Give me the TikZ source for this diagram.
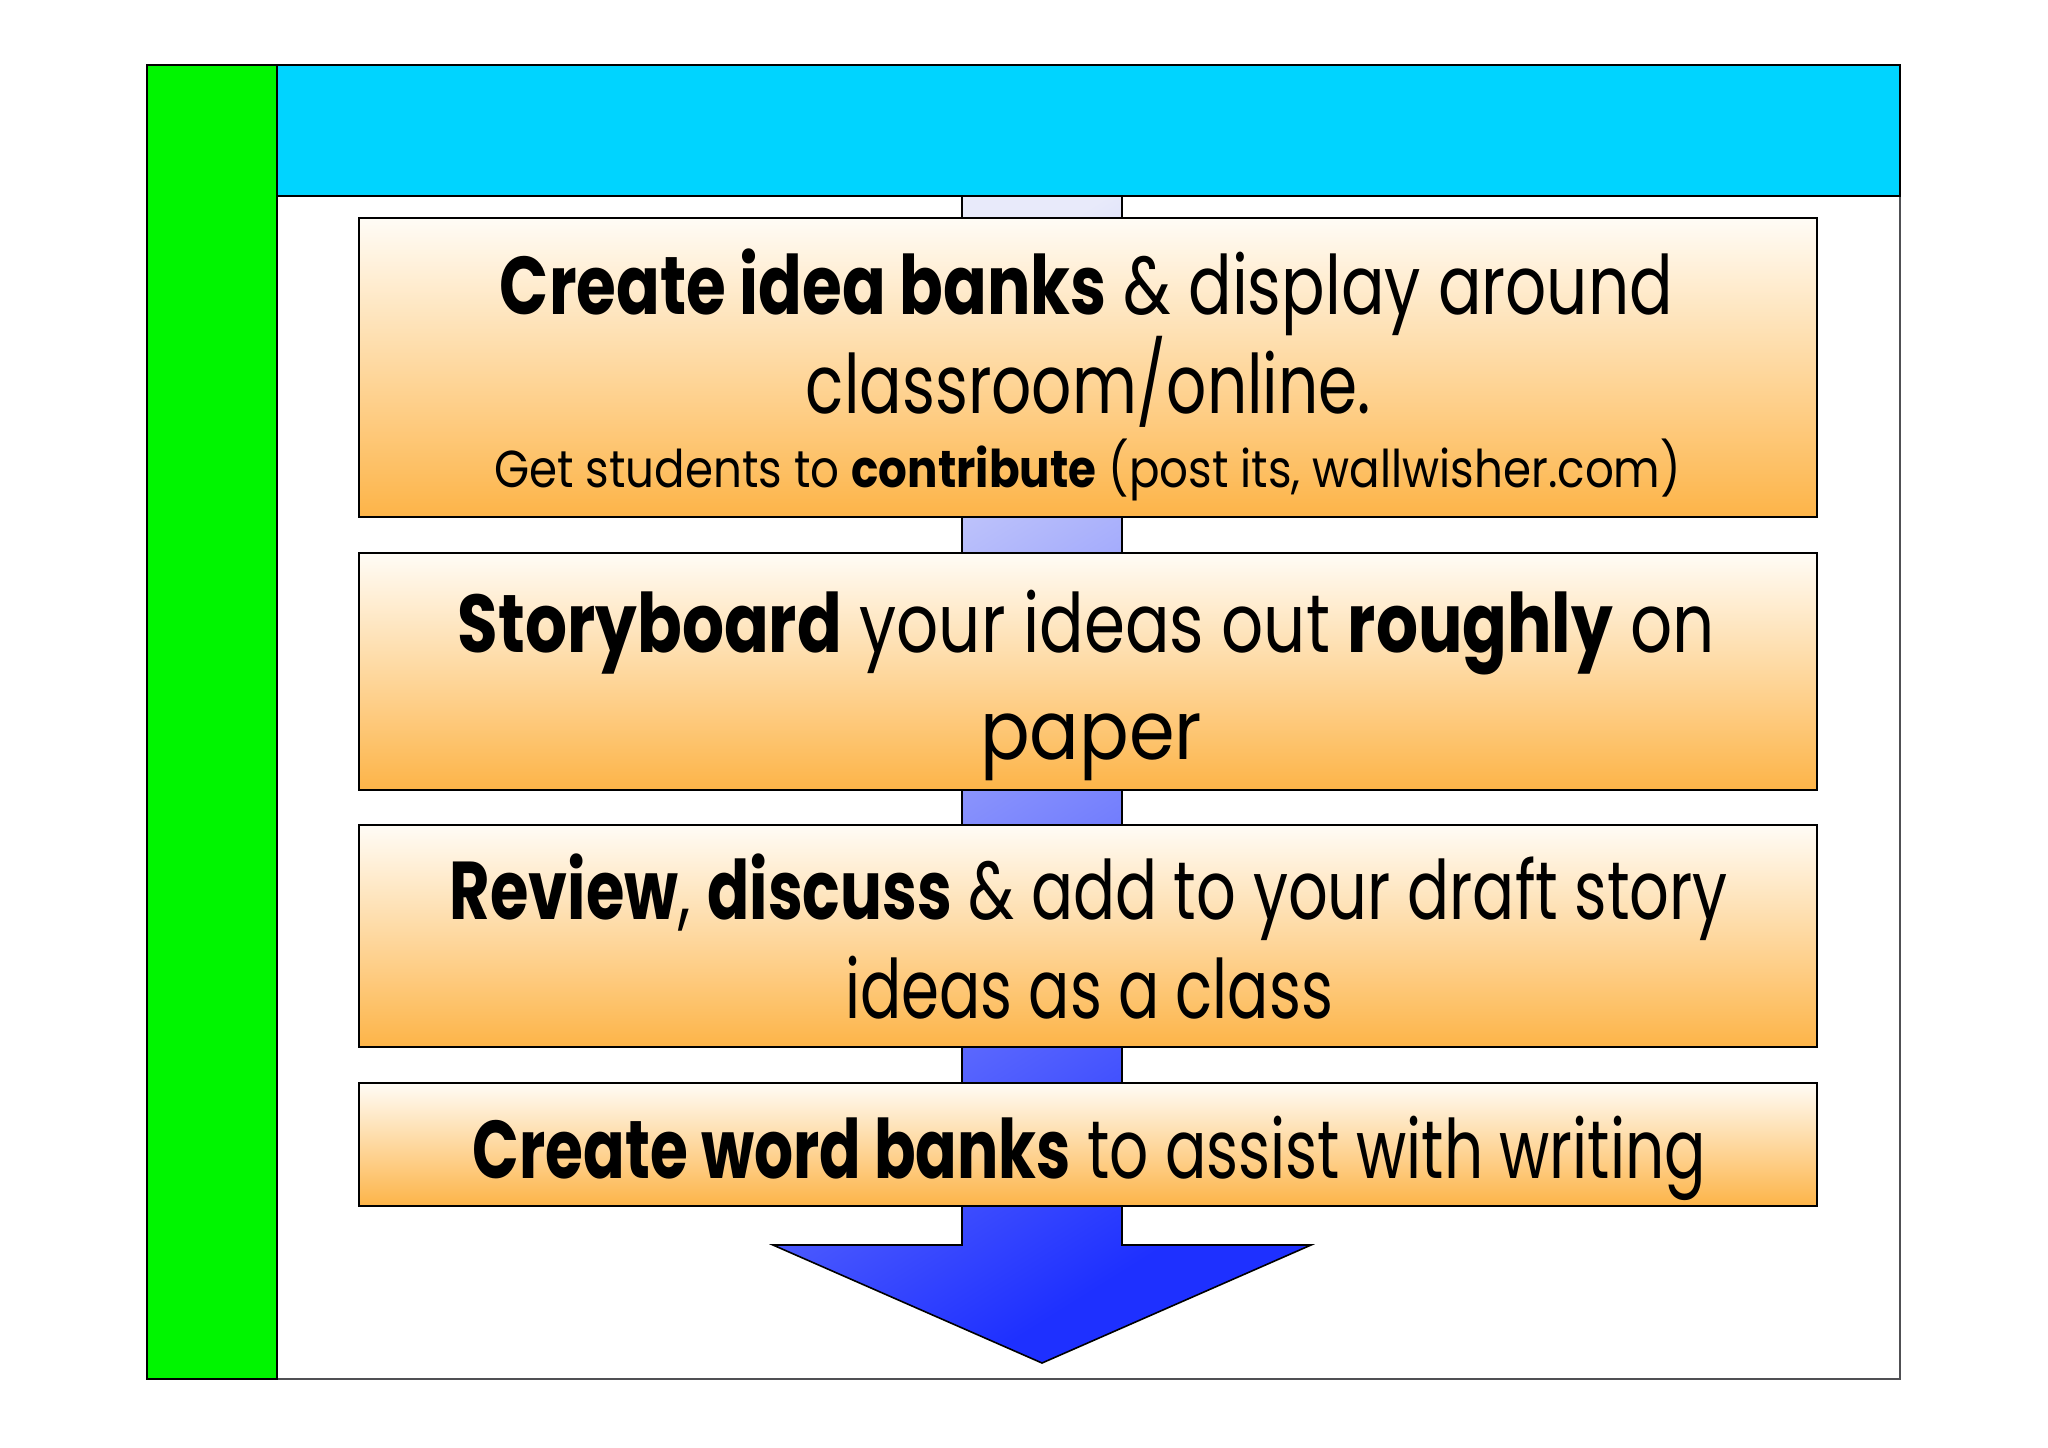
\documentclass[tikz,border=0pt]{standalone}
\usepackage{fontspec}
\setmainfont{Poppins}
\usepackage{graphicx}
\newcommand{\fitw}[2]{\resizebox{#1}{\height}{#2}}
\definecolor{bargreen}{RGB}{0,245,0}
\definecolor{barcyan}{RGB}{0,212,255}
\definecolor{boxtop}{RGB}{255,252,246}
\definecolor{boxbot}{RGB}{253,180,72}
\definecolor{arrtop}{RGB}{232,234,250}
\definecolor{arrmid}{RGB}{130,138,255}
\definecolor{arrbot}{RGB}{30,48,255}
\definecolor{panelgray}{RGB}{80,80,84}
\tikzset{
  stepbox/.style={draw=black, line width=1pt, top color=boxtop, bottom color=boxbot, minimum width=729pt, inner sep=0pt},
  bigtxt/.style={inner sep=0pt, anchor=base, font=\fontsize{41pt}{41pt}\selectfont},
  smalltxt/.style={inner sep=0pt, anchor=base, font=\fontsize{26pt}{26pt}\selectfont},
  barframe/.style={draw=black, line width=1.3pt},
  arrowshape/.style={draw=black, line width=0.8pt, top color=arrtop, middle color=arrmid, bottom color=arrbot, shading angle=32}
}
\begin{document}
\begin{tikzpicture}[x=0.5pt,y=-0.5pt]
\useasboundingbox (0,0) rectangle (2048,1447);
\fill[white] (0,0) rectangle (2048,1447);
% panel
\draw[panelgray, line width=0.9pt, fill=white] (147,65) rectangle (1900,1379);
% big block arrow behind the steps
\shadedraw[arrowshape] (962,196) -- (962,1245) -- (773,1245) -- (1042,1363) -- (1311,1245) -- (1122,1245) -- (1122,196) -- cycle;
% side and title bars
\draw[barframe, fill=bargreen] (147,65) rectangle (277,1379);
\draw[barframe, fill=barcyan] (277,65) rectangle (1900,196);
% step boxes
\node[stepbox, minimum height=149.5pt] (box1) at (1088,367.5) {};
\node[stepbox, minimum height=118.5pt] (box2) at (1088,671.5) {};
\node[stepbox, minimum height=111pt] (box3) at (1088,936) {};
\node[stepbox, minimum height=61.5pt] (box4) at (1088,1144.5) {};
% texts
\node[bigtxt] (t11) at (1086.5,314) {\fitw{586.5pt}{{\bfseries Create idea banks} \& display around}};
\node[bigtxt] (t12) at (1088.5,413) {\fitw{282.5pt}{classroom/online.}};
\node[smalltxt] (t13) at (1087.5,487) {\fitw{593.5pt}{Get students to {\bfseries contribute} (post its, wallwisher.com)}};
\node[bigtxt] (t21) at (1086.5,652) {\fitw{628.5pt}{{\bfseries Storyboard} your ideas out {\bfseries roughly} on}};
\node[bigtxt] (t22) at (1091,759) {\fitw{111pt}{paper}};
\node[bigtxt] (t31) at (1089,919) {\fitw{639pt}{{\bfseries Review}, {\bfseries discuss} \& add to your draft story}};
\node[bigtxt] (t32) at (1089,1018) {\fitw{244pt}{ideas as a class}};
\node[bigtxt] (t41) at (1089.5,1178) {\fitw{616.5pt}{{\bfseries Create word banks} to assist with writing}};
\end{tikzpicture}
\end{document}
